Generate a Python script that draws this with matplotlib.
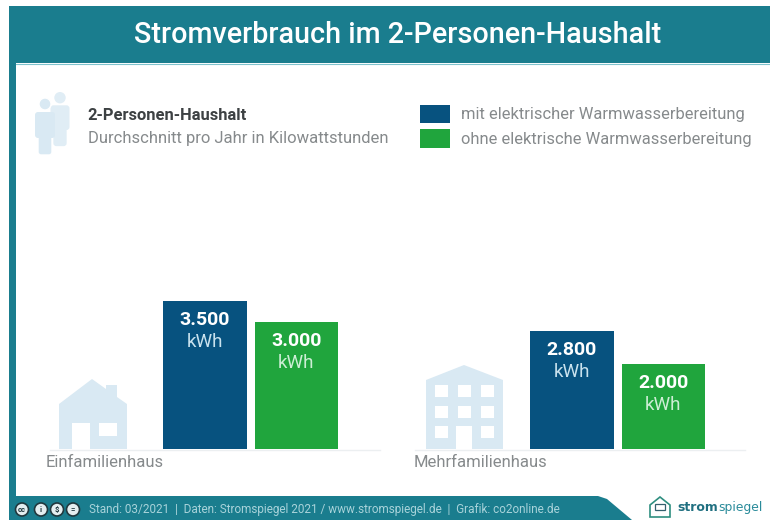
import matplotlib
matplotlib.use("Agg")
from matplotlib import pyplot as plt
from matplotlib.patches import Circle, FancyBboxPatch, Polygon, Rectangle
import numpy as np

plt.rcParams["font.family"] = ["Roboto", "DejaVu Sans"]

# data
categories = ["Einfamilienhaus", "Mehrfamilienhaus"]
mit_warmwasser = [3500, 2800]
ohne_warmwasser = [3000, 2000]
value_labels_mit = ["3.500", "2.800"]
value_labels_ohne = ["3.000", "2.000"]
unit = "kWh"
series_names = ["mit elektrischer Warmwasserbereitung", "ohne elektrische Warmwasserbereitung"]
title = "Stromverbrauch im 2-Personen-Haushalt"
subtitle_bold = "2-Personen-Haushalt"
subtitle = "Durchschnitt pro Jahr in Kilowattstunden"
footer = "Stand: 03/2021  |  Daten: Stromspiegel 2021 / www.stromspiegel.de  |  Grafik: co2online.de"

TEAL = "#1a7d8e"
BLUE = "#07527f"
GREEN = "#20a53d"
ICON = "#d9e9f3"
GREY = "#868a8c"

W, H = 770, 520
fig = plt.figure(figsize=(W / 100, H / 100), dpi=100, facecolor="white")

# background layer in pixel coordinates
bg = fig.add_axes([0, 0, 1, 1], zorder=0)
bg.set_xlim(0, W)
bg.set_ylim(H, 0)
bg.axis("off")

bg.add_patch(Rectangle((9, 6), W - 9, 57, color=TEAL, lw=0))
bg.add_patch(Rectangle((9, 63), 7, 433, color=TEAL, lw=0))
bg.add_patch(Polygon([(9, 496), (598, 496), (607, 499), (632, 520), (9, 520)], color=TEAL, lw=0))
bg.plot([16, W], [63.5, 63.5], color="#7fc3cd", lw=0.8)

bg.text(398, 35, title, color="white", fontsize=20.7, fontweight="medium", ha="center", va="center")


# people icon
def person(cx, top, scale, color=ICON, edge="none"):
    bg.add_patch(Circle((cx, top + 6 * scale), 6 * scale, facecolor=color, edgecolor=edge, lw=1))
    bg.add_patch(FancyBboxPatch((cx - 7 * scale, top + 33 * scale), 14 * scale, 24 * scale,
                                boxstyle="round,pad=0,rounding_size=3", facecolor=color, edgecolor=edge, lw=1))
    bg.add_patch(FancyBboxPatch((cx - 10 * scale, top + 14 * scale), 20 * scale, 26 * scale,
                                boxstyle="round,pad=0,rounding_size=3", facecolor=color, edgecolor=color, lw=0))


person(60, 92, 0.95, "#e0edf5")
person(45, 98, 1.0, ICON, "white")

bg.text(87.5, 115, subtitle_bold, color="#3d4143", fontsize=11.9, fontweight="bold", va="center")
bg.text(88, 138.5, subtitle, color=GREY, fontsize=11.95, va="center")

# house icon
bg.add_patch(Polygon([(59, 449), (59, 404), (92, 379), (106, 389), (106, 385), (117, 385),
                      (117, 397), (127, 404), (127, 449)], color=ICON, lw=0))
bg.add_patch(Rectangle((72, 423), 18, 26, color="white", lw=0))
bg.add_patch(Rectangle((99, 423), 18, 13, color="white", lw=0))

# apartment icon
bg.add_patch(Polygon([(426, 449), (426, 380), (464, 365), (503, 380), (503, 449)], color=ICON, lw=0))
for wx in (435, 458, 481):
    for wy in (385, 406, 426):
        if wx == 458 and wy == 426:
            continue
        bg.add_patch(Rectangle((wx, wy), 13, 12, color="white", lw=0))
bg.add_patch(Rectangle((456, 426), 16, 23, color="white", lw=0))

# baselines
bg.plot([50, 380], [449.5, 449.5], color="#eceff1", lw=1)
bg.plot([415, 745], [449.5, 449.5], color="#eceff1", lw=1)

# bars, y scale is 148 px for 3500 kWh
base_px = 449
px_per_kwh = 148 / 3500
ax = fig.add_axes([0, (H - base_px) / H, 1, 350 / H], zorder=1)
ax.patch.set_alpha(0)
ax.set_xlim(0, W)
ax.set_ylim(0, 350 / px_per_kwh)
ax.axis("off")

centers = np.array([250.5, 617.5])
bar_w = 83.5
bars_mit = ax.bar(centers - 45.75, mit_warmwasser, bar_w, color=BLUE, label=series_names[0])
bars_ohne = ax.bar(centers + 45.75, ohne_warmwasser, bar_w, color=GREEN, label=series_names[1])

for rect, val in zip(list(bars_mit) + list(bars_ohne), value_labels_mit + value_labels_ohne):
    x = rect.get_x() + rect.get_width() / 2
    top = rect.get_height()
    ax.annotate(val, (x, top), xytext=(0, -19), textcoords="offset pixels", color="white",
                fontsize=14, fontweight="bold", ha="center", va="center")
    ax.annotate(unit, (x, top), xytext=(0, -41), textcoords="offset pixels",
                color="#c9e2ee" if rect in bars_mit else "#cdeed5",
                fontsize=13.5, ha="center", va="center")

for cat, left in zip(categories, (46, 413.5)):
    bg.text(left, 462.5, cat, color=GREY, fontsize=12, va="center")

ax.legend(loc="upper left", bbox_to_anchor=(420 / W, (base_px - 104.5) / 350), bbox_transform=ax.transAxes,
          frameon=False, fontsize=11.9, handlelength=1.79, handleheight=1.35, labelspacing=0.39,
          handletextpad=0.7, borderpad=0, borderaxespad=0, labelcolor=GREY)

# licence badges and footer text
for cx, sym in zip((22, 41, 57, 73), ("cc", "i", "$", "=")):
    bg.add_patch(Circle((cx, 509.5), 6.5, facecolor="#e4eef0", edgecolor="#20383e", lw=1.2))
    bg.text(cx, 509.5, sym, color="#20383e", fontsize=5.5, fontweight="bold", ha="center", va="center")
bg.text(89, 510, footer, color="#a8d3da", fontsize=8.43, va="center")

# logo
bg.add_patch(Polygon([(650, 505), (660, 497), (670, 505), (670, 517), (650, 517)],
                     facecolor="none", edgecolor="#2f8f80", lw=1.2))
bg.add_patch(Rectangle((655, 504), 10, 6, facecolor="none", edgecolor="#35606e", lw=0.9))
logo = bg.text(677, 511, "strom", color="#1f6f80", fontsize=8.9, fontweight="bold", family="DejaVu Sans", va="baseline")
bg.annotate("spiegel", xycoords=logo, xy=(1, 0), xytext=(0.5, 2.1), textcoords="offset points",
            color="#2a8b9a", fontsize=8.9, family="DejaVu Sans", va="baseline")

fig.savefig("out.png", dpi=100, facecolor="white")
